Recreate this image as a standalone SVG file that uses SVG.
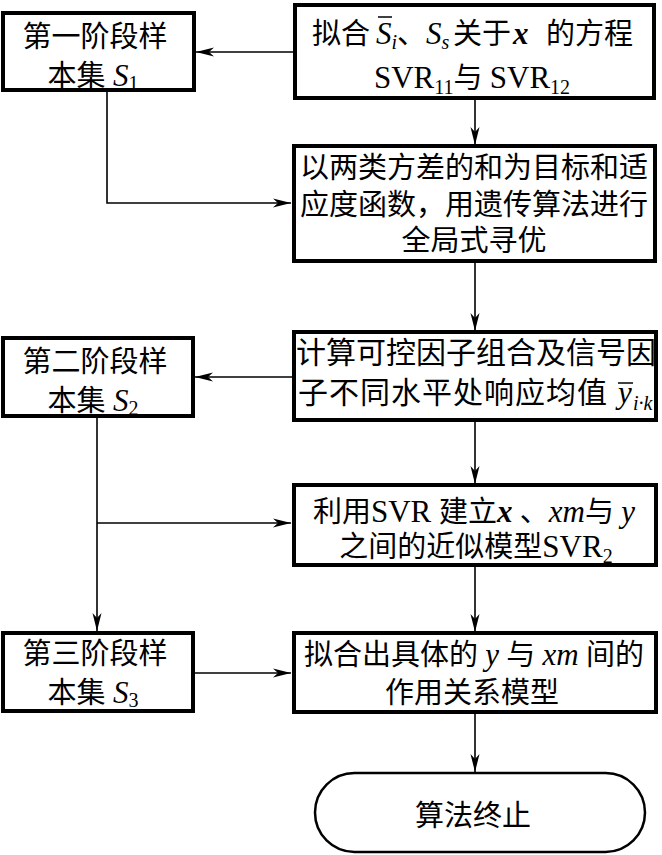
<svg xmlns="http://www.w3.org/2000/svg" width="662" height="855" viewBox="0 0 662 855">
<style>
.box{fill:#fff;stroke:#000;stroke-width:4}
.term{fill:#fff;stroke:#000;stroke-width:2.5}
.cn{font-family:"Liberation Serif","Noto Sans CJK SC",serif;font-size:29px;fill:#000}
.lt{font-family:"Liberation Serif","Noto Sans CJK SC",serif;font-size:31px}
.it{font-style:italic}
.bi{font-style:italic;font-weight:bold}
.sub{font-size:20px}
.ln{stroke:#000;stroke-width:1.6;fill:none}
.ov{stroke:#000;stroke-width:1.5}
</style>
<defs>
<marker id="ah" markerUnits="userSpaceOnUse" markerWidth="20" markerHeight="12" refX="18" refY="5" orient="auto" viewBox="0 0 20 10">
<path d="M0,0.5 L18,5 L0,9.5 L5,5 Z" fill="#000"/>
</marker>
</defs>

<g id="connectors">
<line class="ln" x1="475" y1="98" x2="475" y2="145" marker-end="url(#ah)"/>
<line class="ln" x1="294" y1="52" x2="196" y2="52" marker-end="url(#ah)"/>
<polyline class="ln" points="107,90 107,203 291,203" marker-end="url(#ah)"/>
<line class="ln" x1="475" y1="261" x2="475" y2="331" marker-end="url(#ah)"/>
<line class="ln" x1="293" y1="377" x2="195" y2="377" marker-end="url(#ah)"/>
<line class="ln" x1="475" y1="420" x2="475" y2="484" marker-end="url(#ah)"/>
<line class="ln" x1="97" y1="416" x2="97" y2="631" marker-end="url(#ah)"/>
<line class="ln" x1="97" y1="523" x2="291" y2="523" marker-end="url(#ah)"/>
<line class="ln" x1="193" y1="673" x2="291" y2="673" marker-end="url(#ah)"/>
<line class="ln" x1="475" y1="565" x2="475" y2="632" marker-end="url(#ah)"/>
<line class="ln" x1="475" y1="712" x2="475" y2="772" marker-end="url(#ah)"/>
</g>

<g id="fit1">
<rect class="box" x="295" y="5" width="359" height="93"/>
<text class="cn" x="312" y="44">拟合</text>
<text class="cn" x="376" y="44"><tspan class="lt it">S</tspan><tspan class="it sub" dy="5">i</tspan><tspan dy="-5">、</tspan><tspan class="lt it">S</tspan><tspan class="it sub" dy="5">s</tspan></text>
<line class="ov" x1="378" y1="17" x2="392" y2="17"/>
<text class="cn" x="453" y="44">关于</text>
<text class="cn lt bi" x="513" y="44">x</text>
<text class="cn" x="546" y="44">的方程</text>
<text class="cn" x="472" y="88" text-anchor="middle"><tspan class="lt">SVR</tspan><tspan class="sub" dy="6">11</tspan><tspan dy="-6">与 </tspan><tspan class="lt">SVR</tspan><tspan class="sub" dy="6">12</tspan></text>
</g>

<g id="stage1">
<rect class="box" x="3" y="13" width="191" height="77"/>
<text class="cn" x="95" y="47" text-anchor="middle">第一阶段样</text>
<text class="cn" x="93" y="86" text-anchor="middle">本集 <tspan class="lt it">S</tspan><tspan class="sub" dy="4">1</tspan></text>
</g>

<g id="ga">
<rect class="box" x="294" y="146" width="361" height="115"/>
<text class="cn" x="474" y="178" text-anchor="middle">以两类方差的和为目标和适</text>
<text class="cn" x="474" y="215" text-anchor="middle">应度函数，用遗传算法进行</text>
<text class="cn" x="474" y="251" text-anchor="middle">全局式寻优</text>
</g>

<g id="mean">
<rect class="box" x="294" y="332" width="362" height="88"/>
<text class="cn" x="476" y="363" text-anchor="middle" style="font-size:30px">计算可控因子组合及信号因</text>
<text class="cn" x="298" y="403" style="font-size:30px;letter-spacing:1px">子不同水平处响应均值</text>
<text class="cn lt it" x="618" y="403">y</text>
<line class="ov" x1="618" y1="383" x2="633" y2="383"/>
<text class="cn it sub" x="633" y="410">i·k</text>
</g>

<g id="stage2">
<rect class="box" x="3" y="338" width="190" height="78"/>
<text class="cn" x="95" y="372" text-anchor="middle">第二阶段样</text>
<text class="cn" x="93" y="411" text-anchor="middle">本集 <tspan class="lt it">S</tspan><tspan class="sub" dy="4">2</tspan></text>
</g>

<g id="svr2">
<rect class="box" x="294" y="485" width="362" height="80"/>
<text class="cn" x="474" y="522" text-anchor="middle">利用<tspan class="lt">SVR </tspan>建立<tspan class="lt bi">x</tspan> 、<tspan class="lt it">xm</tspan>与 <tspan class="lt it">y</tspan></text>
<text class="cn" x="476" y="557" text-anchor="middle">之间的近似模型<tspan class="lt">SVR</tspan><tspan class="sub" dy="6">2</tspan></text>
</g>

<g id="stage3">
<rect class="box" x="3" y="633" width="190" height="78"/>
<text class="cn" x="95" y="664" text-anchor="middle">第三阶段样</text>
<text class="cn" x="93" y="703" text-anchor="middle">本集 <tspan class="lt it">S</tspan><tspan class="sub" dy="4">3</tspan></text>
</g>

<g id="relation">
<rect class="box" x="294" y="633" width="362" height="79"/>
<text class="cn" x="474" y="665" text-anchor="middle">拟合出具体的 <tspan class="lt it">y</tspan> 与 <tspan class="lt it">xm</tspan> 间的</text>
<text class="cn" x="472" y="703" text-anchor="middle">作用关系模型</text>
</g>

<g id="end">
<rect class="term" x="315" y="773" width="330" height="79" rx="39.5" ry="39.5"/>
<text class="cn" x="473" y="826" text-anchor="middle">算法终止</text>
</g>
</svg>
